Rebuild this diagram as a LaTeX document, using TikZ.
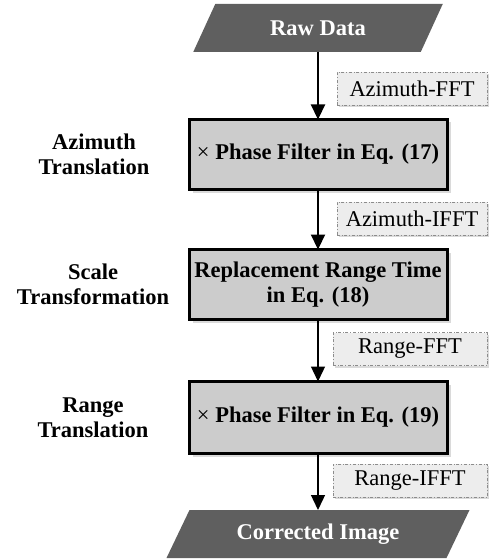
\documentclass[tikz,border=0pt]{standalone}
\usepackage{fontspec}
\setmainfont{Liberation Serif}
\usetikzlibrary{arrows.meta,shadows,backgrounds}

\definecolor{darkfill}{HTML}{5F5F5F}
\definecolor{boxfill}{HTML}{CCCCCC}
\definecolor{tagfill}{HTML}{EDEDED}
\definecolor{tagline}{HTML}{8C8C8C}
\definecolor{shadowgray}{HTML}{DADADA}

\begin{document}
\begin{tikzpicture}[x=1pt,y=-1pt,
  every node/.style={font=\fontsize{22.5}{25}\selectfont, align=center,
    inner sep=0pt, outer sep=0pt},
  stepbox/.style={draw=black, line width=3pt, fill=boxfill,
    minimum width=258pt, minimum height=70pt,
    font=\fontsize{22.5}{25}\selectfont\bfseries,
    drop shadow={shadow xshift=4pt, shadow yshift=-3pt,
      fill=shadowgray, opacity=1}},
  tag/.style={draw=tagline, dash dot, line width=0.8pt, fill=tagfill,
    minimum width=150pt, minimum height=33pt,
    drop shadow={shadow xshift=2pt, shadow yshift=-2pt,
      fill=shadowgray, opacity=1}},
  iotext/.style={text=white, minimum height=48pt,
    font=\fontsize{22.5}{25}\selectfont\bfseries},
  sidelabel/.style={font=\fontsize{22.5}{25}\selectfont\bfseries},
  flow/.style={-{Triangle[length=15pt,width=14pt]}, line width=2.2pt},
  flowthin/.style={flow, line width=1.3pt}]

\useasboundingbox (0,0) rectangle (493,559);

% input / output terminals
\node[iotext, minimum width=227.5pt] (raw) at (318,28) {Raw Data};
\node[iotext, minimum width=280pt] (out) at (318,534) {Corrected Image};

% processing steps
\node[stepbox] (az) at (318,154.5) {{\mdseries ×} Phase Filter in Eq. (17)};
\node[stepbox] (sc) at (318,284.5) {Replacement Range Time\\in Eq. (18)};
\node[stepbox, minimum height=72pt] (rg) at (318,417.5) {{\mdseries ×} Phase Filter in Eq. (19)};

% stage names
\node[sidelabel] (l1) at (94,154.5) {Azimuth\\Translation};
\node[sidelabel] (l2) at (93,284.5) {Scale\\Transformation};
\node[sidelabel] (l3) at (93,417.5) {Range\\Translation};

% transform tags beside the arrows
\node[tag] (t1) at (412,89) {Azimuth-FFT};
\node[tag] (t2) at (412,218.5) {Azimuth-IFFT};
\node[tag, minimum width=154pt] (t3) at (410,349) {Range-FFT};
\node[tag, minimum width=154pt] (t4) at (410,480.5) {Range-IFFT};

% flow
\draw[flow] (raw.south) -- (az.north);
\draw[flow] (az.south) -- (sc.north);
\draw[flowthin] (sc.south) -- (rg.north);
\draw[flowthin] (rg.south) -- (out.north);

% parallelogram bodies of the terminals
\begin{scope}[on background layer]
  \fill[darkfill] ([xshift=-11pt]raw.south west) -- ([xshift=-11pt]raw.south east)
    -- ([xshift=11pt]raw.north east) -- ([xshift=11pt]raw.north west) -- cycle;
  \fill[darkfill] ([xshift=-11.5pt]out.south west) -- ([xshift=-11.5pt]out.south east)
    -- ([xshift=11.5pt]out.north east) -- ([xshift=11.5pt]out.north west) -- cycle;
\end{scope}
\end{tikzpicture}
\end{document}
